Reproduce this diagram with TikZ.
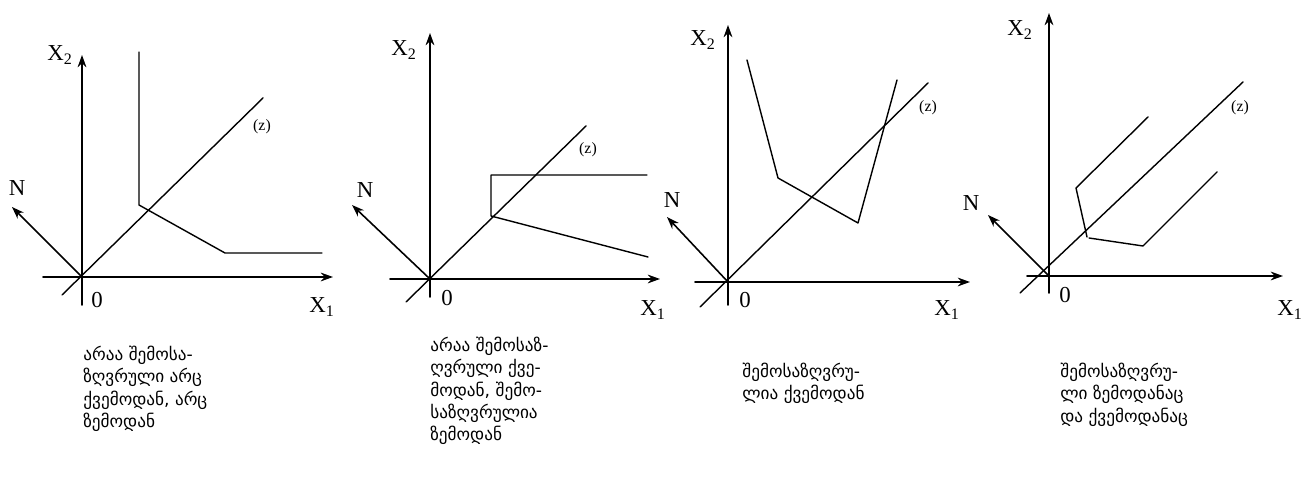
\documentclass[tikz,border=0pt]{standalone}
\usepackage{fontspec}
\setmainfont{Liberation Serif}
\newfontfamily\geofont{DejaVu Sans}
\usetikzlibrary{arrows.meta}
\tikzset{
  axis/.style={->,line width=0.9pt},
  curve/.style={line width=0.8pt},
  axlabel/.style={inner sep=0pt,font=\fontsize{13}{15}\selectfont},
  zlabel/.style={inner sep=0pt,font=\fontsize{9}{11}\selectfont},
  caption/.style={anchor=north west,align=left,inner sep=0pt,
    font=\geofont\fontsize{9.8}{12.6}\selectfont},
}
\begin{document}
\begin{tikzpicture}[>={Stealth[length=7pt,width=5pt]},x=0.02cm,y=0.02cm,
    line join=round,line cap=round]
    \useasboundingbox (0,0) rectangle (1302,496);
    % panel 1: neither bounded
    \begin{scope}[shift={(82,219)}]
        \draw[axis] (-39,0)--(251,0);
        \draw[axis] (0,-28)--(0,222);
        \draw[axis] (0,0)--(-70,70);
        \draw[curve] (-20,-18)--(181,179);
        \draw[curve] (57,225)--(57,72)--(143,24)--(240,24);
        \node[axlabel] (xtwoA) at (-22,222) {X\textsubscript{2}};
        \node[axlabel] (xoneA) at (240,-30) {X\textsubscript{1}};
        \node[axlabel] (zeroA) at (15,-23) {0};
        \node[axlabel] (nA) at (-65,89) {N};
        \node[zlabel] (zA) at (180,150) {(z)};
    \end{scope}
    % panel 2: bounded above
    \begin{scope}[shift={(430,217)}]
        \draw[axis] (-40,0)--(230,0);
        \draw[axis] (0,-18)--(0,246);
        \draw[axis] (0,0)--(-78,74);
        \draw[curve] (-24,-23)--(156,153);
        \draw[curve] (217,104)--(61,104)--(61,63)--(218,22);
        \node[axlabel] (xtwoB) at (-26,229) {X\textsubscript{2}};
        \node[axlabel] (xoneB) at (223,-31) {X\textsubscript{1}};
        \node[axlabel] (zeroB) at (17,-19) {0};
        \node[axlabel] (nB) at (-65,89) {N};
        \node[zlabel] (zB) at (158,129) {(z)};
    \end{scope}
    % panel 3: bounded below
    \begin{scope}[shift={(728,214)}]
        \draw[axis] (-33,0)--(242,0);
        \draw[axis] (0,-23)--(0,257);
        \draw[axis] (0,0)--(-61,65);
        \draw[curve] (-28,-25)--(200,199);
        \draw[curve] (19,222)--(50,104)--(130,59)--(169,202);
        \node[axlabel] (xtwoC) at (-25,242) {X\textsubscript{2}};
        \node[axlabel] (xoneC) at (219,-28) {X\textsubscript{1}};
        \node[axlabel] (zeroC) at (17,-18) {0};
        \node[axlabel] (nC) at (-56,82) {N};
        \node[zlabel] (zC) at (200,174) {(z)};
    \end{scope}
    % panel 4: bounded both ways
    \begin{scope}[shift={(1049,220)}]
        \draw[axis] (-22,0)--(234,0);
        \draw[axis] (0,-17)--(0,263);
        \draw[axis] (0,0)--(-61,61);
        \draw[curve] (-29,-17)--(194,194);
        \draw[curve] (99,159)--(27,88)--(38,39);
        \draw[curve] (40,38)--(94,30)--(168,104);
        \node[axlabel] (xtwoD) at (-29,246) {X\textsubscript{2}};
        \node[axlabel] (xoneD) at (241,-34) {X\textsubscript{1}};
        \node[axlabel] (zeroD) at (16,-19) {0};
        \node[axlabel] (nD) at (-78,73) {N};
        \node[zlabel] (zD) at (191,168) {(z)};
    \end{scope}
    % captions
    \node[caption] (capA) at (83,150) {არაა შემოსა-\\ზღვრული არც\\ქვემოდან, არც\\ზემოდან};
    \node[caption] (capB) at (430,159) {არაა შემოსაზ-\\ღვრული ქვე-\\მოდან, შემო-\\საზღვრულია\\ზემოდან};
    \node[caption] (capC) at (742,133) {შემოსაზღვრუ-\\ლია ქვემოდან};
    \node[caption] (capD) at (1060,133) {შემოსაზღვრუ-\\ლი ზემოდანაც\\და ქვემოდანაც};
\end{tikzpicture}
\end{document}
